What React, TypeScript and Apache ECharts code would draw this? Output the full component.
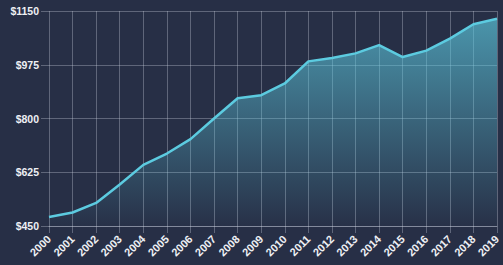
import React, { useEffect, useRef } from "react";
import * as echarts from "echarts";

const years = ["2000","2001","2002","2003","2004","2005","2006","2007","2008","2009","2010","2011","2012","2013","2014","2015","2016","2017","2018","2019"];
const values = [479, 494, 525, 585, 649, 686, 733, 800, 866, 876, 914, 986, 997, 1012, 1039, 1000, 1021, 1060, 1107, 1125];
const yMin = 450;
const yMax = 1150;
const yStep = 175;

export default function App() {
  const ref = useRef<HTMLDivElement>(null);
  useEffect(() => {
    if (!ref.current) return;
    const chart = echarts.init(ref.current, undefined, { renderer: "svg" });
    const gridColor = "rgba(200,205,220,0.35)";
    const labelStyle = { color: "#eef0f4", fontFamily: "Liberation Sans, Arial, sans-serif", fontWeight: "bold" as const };
    chart.setOption({
      animation: false,
      backgroundColor: "#272f46",
      grid: { left: 49, right: 6, top: 11, bottom: 39, containLabel: false },
      xAxis: {
        type: "category",
        data: years,
        boundaryGap: false,
        axisLine: { show: true, lineStyle: { color: gridColor, width: 1 } },
        axisTick: { show: true, length: 7, lineStyle: { color: gridColor } },
        splitLine: { show: true, lineStyle: { color: gridColor, width: 1 } },
        axisLabel: { ...labelStyle, fontSize: 11, rotate: 45, margin: 11, interval: 0 },
      },
      yAxis: {
        type: "value",
        min: yMin,
        max: yMax,
        interval: yStep,
        axisLine: { show: false },
        axisTick: { show: true, length: 8, lineStyle: { color: gridColor } },
        splitLine: { show: true, lineStyle: { color: gridColor, width: 1 } },
        axisLabel: { ...labelStyle, fontSize: 10.5, margin: 10, formatter: (v: number) => "$" + v },
      },
      series: [
        {
          type: "line",
          data: values,
          symbol: "none",
          lineStyle: { color: "#5ccbe0", width: 2.5 },
          areaStyle: {
            color: new echarts.graphic.LinearGradient(0, 0, 0, 1, [
              { offset: 0, color: "rgba(92,200,222,0.95)" },
              { offset: 1, color: "rgba(92,200,222,0.02)" },
            ]),
          },
        },
      ],
    });
    return () => chart.dispose();
  }, []);
  return <div ref={ref} style={{ position: "fixed", left: 0, top: 0, width: 503, height: 265 }} />;
}
